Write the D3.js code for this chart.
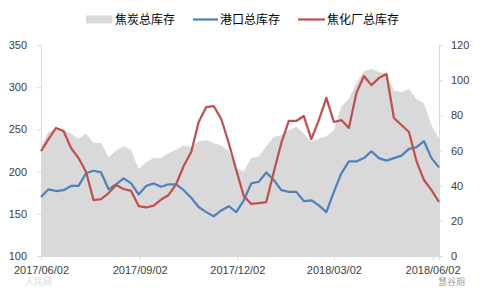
<!DOCTYPE html>
<html>
<head>
<meta charset="utf-8">
<script src="https://cdn.jsdelivr.net/npm/d3@7"></script>
<style>
  body { margin: 0; background: #fff; }
  svg { display: block; font-family: "Liberation Sans", "Noto Sans CJK SC", sans-serif; }
</style>
</head>
<body>
<div id="chart"></div>
<script>
// 週資料 (2017/06/02 ~ 2018/06/08)
const dates = [
  "2017-06-02","2017-06-09","2017-06-16","2017-06-23","2017-06-30",
  "2017-07-07","2017-07-14","2017-07-21","2017-07-28",
  "2017-08-04","2017-08-11","2017-08-18","2017-08-25",
  "2017-09-01","2017-09-08","2017-09-15","2017-09-22","2017-09-29",
  "2017-10-06","2017-10-13","2017-10-20","2017-10-27",
  "2017-11-03","2017-11-10","2017-11-17","2017-11-24",
  "2017-12-01","2017-12-08","2017-12-15","2017-12-22","2017-12-29",
  "2018-01-05","2018-01-12","2018-01-19","2018-01-26",
  "2018-02-02","2018-02-09","2018-02-16","2018-02-23",
  "2018-03-02","2018-03-09","2018-03-16","2018-03-23","2018-03-30",
  "2018-04-06","2018-04-13","2018-04-20","2018-04-27",
  "2018-05-04","2018-05-11","2018-05-18","2018-05-25",
  "2018-06-01","2018-06-08"
];

// 焦炭总库存 (左軸)
const totalStock = [
  229, 247, 250, 250, 245, 239, 245, 234, 234, 217,
  225, 230, 226, 203, 211, 216, 216, 222, 226, 231,
  229, 236, 237, 234, 231, 224, 204, 200, 216, 218,
  230, 241, 243, 249, 253, 245, 235, 239, 242, 249,
  277, 286, 305, 319, 322, 318, 316, 296, 294, 298,
  286, 281, 255, 239
];

// 港口总库存 (左軸)
const portStock = [
  170, 179, 177, 178, 183, 183, 198, 201, 199, 179,
  185, 192, 186, 173, 183, 186, 182, 185, 185, 178,
  169, 158, 152, 147, 154, 159, 152, 166, 186, 188,
  199, 190, 178, 176, 176, 165, 166, 160, 152, 176,
  198, 212, 212, 216, 224, 216, 213, 216, 219, 227,
  229, 236, 216, 205
];

// 焦化厂总库存 (右軸)
const plantStock = [
  59.7, 66.5, 72.8, 71.1, 61.4, 55.7, 47.8, 31.8, 32.4, 35.8,
  40.4, 38.1, 37.0, 28.4, 27.6, 28.7, 32.1, 34.7, 40.9, 51.2,
  59.1, 76.2, 84.7, 85.3, 77.9, 64.3, 48.9, 34.1, 29.6, 30.1,
  30.7, 47.8, 64.3, 76.8, 76.8, 79.6, 66.5, 77.3, 89.9, 76.2,
  77.3, 72.8, 92.7, 102.4, 97.2, 101.2, 103.5, 78.5, 74.5, 70.5,
  54.0, 43.2, 37.5, 30.7
];

const leftTicks = [100, 150, 200, 250, 300, 350];
const rightTicks = [0, 20, 40, 60, 80, 100, 120];
const xTickDates = ["2017-06-02", "2017-09-02", "2017-12-02", "2018-03-02", "2018-06-02"];

const seriesNames = ["焦炭总库存", "港口总库存", "焦化厂总库存"];
const colors = { total: "#d9d9d9", port: "#4f81bd", plant: "#c0504d" };

const W = 480, H = 288;
const margin = { top: 45, right: 41, bottom: 32, left: 41 };
const parse = d3.timeParse("%Y-%m-%d");

const rows = dates.map((d, i) => ({
  date: parse(d),
  total: totalStock[i],
  port: portStock[i],
  plant: plantStock[i]
}));

const svg = d3.select("#chart").append("svg")
  .attr("width", W)
  .attr("height", H);

const x = d3.scaleTime()
  .domain([parse(dates[0]), parse(dates[dates.length - 1])])
  .range([margin.left, W - margin.right]);

const yL = d3.scaleLinear()
  .domain([100, 350])
  .range([H - margin.bottom, margin.top]);

const yR = d3.scaleLinear()
  .domain([0, 120])
  .range([H - margin.bottom, margin.top]);

// 面積 (焦炭总库存)
const area = d3.area()
  .x(d => x(d.date))
  .y0(yL(100))
  .y1(d => yL(d.total));

svg.append("path")
  .datum(rows)
  .attr("d", area)
  .attr("fill", colors.total);

// 軸
const axisColor = "#d9d9d9";
const textColor = "#404040";

const gL = svg.append("g")
  .attr("transform", `translate(${margin.left},0)`)
  .call(d3.axisLeft(yL).tickValues(leftTicks).tickSize(4).tickPadding(10));

const gR = svg.append("g")
  .attr("transform", `translate(${W - margin.right},0)`)
  .call(d3.axisRight(yR).tickValues(rightTicks).tickSize(4).tickPadding(8));

const gX = svg.append("g")
  .attr("transform", `translate(0,${H - margin.bottom})`)
  .call(d3.axisBottom(x)
    .tickValues(xTickDates.map(parse))
    .tickFormat(d3.timeFormat("%Y/%m/%d"))
    .tickSize(4)
    .tickPadding(6));

[gL, gR, gX].forEach(g => {
  g.select(".domain").attr("stroke", axisColor);
  g.selectAll(".tick line").attr("stroke", axisColor);
  g.selectAll(".tick text")
    .attr("fill", textColor)
    .style("font-size", "11px");
});

// 線
const portLine = d3.line()
  .x(d => x(d.date))
  .y(d => yL(d.port));

const plantLine = d3.line()
  .x(d => x(d.date))
  .y(d => yR(d.plant));

svg.append("path")
  .datum(rows)
  .attr("d", portLine)
  .attr("fill", "none")
  .attr("stroke", colors.port)
  .attr("stroke-width", 2.25)
  .attr("stroke-linejoin", "round");

svg.append("path")
  .datum(rows)
  .attr("d", plantLine)
  .attr("fill", "none")
  .attr("stroke", colors.plant)
  .attr("stroke-width", 2.25)
  .attr("stroke-linejoin", "round");

// 圖例
const legend = svg.append("g")
  .style("font-family", "'Noto Sans CJK SC', sans-serif")
  .style("font-size", "12px")
  .attr("fill", "#000");

legend.append("rect")
  .attr("x", 86).attr("y", 15.5)
  .attr("width", 26).attr("height", 8)
  .attr("fill", colors.total);
legend.append("text").attr("x", 115).attr("y", 24).text(seriesNames[0]);

legend.append("line")
  .attr("x1", 193).attr("x2", 218).attr("y1", 19.5).attr("y2", 19.5)
  .attr("stroke", colors.port).attr("stroke-width", 2.25);
legend.append("text").attr("x", 220).attr("y", 24).text(seriesNames[1]);

legend.append("line")
  .attr("x1", 298).attr("x2", 325).attr("y1", 19.5).attr("y2", 19.5)
  .attr("stroke", colors.plant).attr("stroke-width", 2.25);
legend.append("text").attr("x", 327).attr("y", 24).text(seriesNames[2]);

// 浮水印 (放在軸標籤下方，避免重疊)
svg.append("text")
  .attr("x", 438).attr("y", 285)
  .attr("fill", "#8c8c8c").attr("opacity", 0.8)
  .style("font-family", "'Noto Sans CJK SC', sans-serif")
  .style("font-size", "9px")
  .text("慧谷期");
svg.append("text")
  .attr("x", 25).attr("y", 285)
  .attr("fill", "#cccccc").attr("opacity", 0.7)
  .style("font-family", "'Noto Sans CJK SC', sans-serif")
  .style("font-size", "9px")
  .text("人民网");
</script>
</body>
</html>
